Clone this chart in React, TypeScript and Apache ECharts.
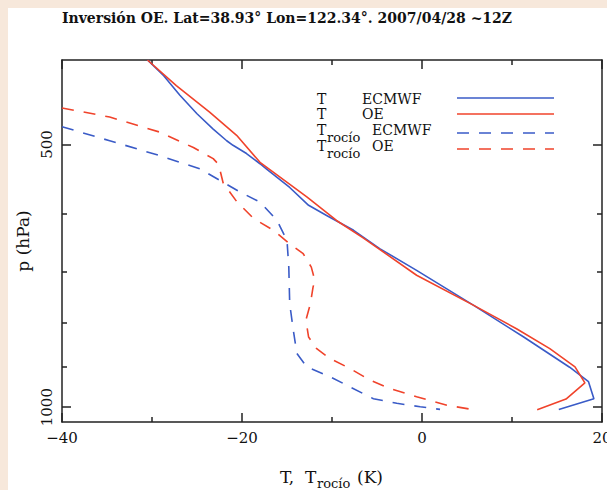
import React, { useEffect, useRef } from "react";
import * as echarts from "echarts";

// ---------- data ----------
const titleText = "Inversión OE. Lat=38.93° Lon=122.34°. 2007/04/28 ~12Z";

const xMin = -40;
const xMax = 20;
const xInterval = 20;
const pTop = 400;
const pBottom = 1040;
const pMajorTicks = [500, 1000];
const pMinorTicks = [600, 700, 800, 900];

// T ECMWF (solid blue)
const tEcmwfT = [-30.5, -28.7, -26.9, -25.0, -23.2, -21.7, -21.0, -19.5, -18.0, -17.3, -14.7, -12.6, -10.6, -7.6, -4.7, -0.6, 5.7, 11.3, 16.4, 18.5, 19.1, 15.2];
const tEcmwfP = [400, 417, 439, 461, 480, 495, 501, 512, 526, 533, 560, 587, 603, 627, 658, 697, 764, 831, 900, 935, 978, 1006];

// T OE (solid red)
const tOeT = [-30.5, -27.3, -23.6, -20.6, -18.0, -12.8, -9.5, -6.5, -0.6, 5.7, 10.5, 14.2, 17.0, 18.1, 16.0, 12.8];
const tOeP = [400, 428, 459, 488, 524, 574, 611, 640, 706, 764, 813, 857, 899, 938, 979, 1007];

// T rocio ECMWF (dashed blue)
const tdEcmwfT = [-40.0, -34.7, -29.1, -24.7, -22.4, -20.2, -18.0, -16.1, -15.0, -14.8, -14.7, -14.3, -13.9, -12.8, -10.2, -8.0, -5.4, -2.8, -0.2, 2.0];
const tdEcmwfP = [477, 495, 515, 533, 550, 567, 582, 611, 644, 691, 761, 816, 868, 899, 923, 948, 978, 990, 999, 1006];

// T rocio OE (dashed red)
const tdOeT = [-40.0, -34.7, -29.1, -25.4, -23.2, -22.6, -22.1, -20.6, -18.7, -16.5, -14.7, -13.2, -12.3, -11.9, -12.1, -12.4, -12.9, -12.6, -11.7, -10.2, -8.0, -5.8, -3.6, -0.6, 2.8, 6.0];
const tdOeP = [454, 465, 484, 504, 519, 527, 553, 581, 608, 627, 650, 667, 691, 716, 728, 761, 795, 831, 857, 880, 903, 931, 952, 973, 995, 1008];

const legendMain = ["T", "T", "T", "T"];
const legendSub = ["", "", "rocío", "rocío"];
const legendModel = ["ECMWF", "OE", "ECMWF", "OE"];

// ---------- styles ----------
const BLUE = "#3a5bc7";
const RED = "#f0432b";
const AX = "#222";
const TXT = "#111";
const SERIF = "DejaVu Serif";
const DASH = [12, 10];

const toPts = (ts: number[], ps: number[]) => ts.map((t, i) => [t, Math.log10(ps[i])]);

export default function App() {
  const ref = useRef<HTMLDivElement>(null);

  useEffect(() => {
    document.body.style.margin = "0";
    document.documentElement.style.overflow = "hidden";
    if (!ref.current) return;
    const chart = echarts.init(ref.current, null, { renderer: "svg" });

    const OFF = 8; // chart div offset in page
    const graphics: any[] = [];
    const text = (x: number, y: number, s: string, size: number, extra: any = {}) => ({
      type: "text",
      x: x - OFF,
      y: y - OFF,
      z: 100,
      style: { text: s, fontFamily: SERIF, fontSize: size, fill: TXT, align: "left", verticalAlign: "middle", ...extra },
    });

    // legend
    const rowY = [99, 114, 130, 146];
    const lineY = [98, 114, 133, 149];
    const colors = [BLUE, RED, BLUE, RED];
    for (let i = 0; i < 4; i++) {
      graphics.push(text(317, rowY[i], legendMain[i], 14));
      if (legendSub[i]) graphics.push(text(327, rowY[i] + 7.5, legendSub[i], 13));
      graphics.push(text(legendSub[i] ? 372 : 362, rowY[i], legendModel[i], 14));
      graphics.push({
        type: "line",
        z: 100,
        shape: { x1: 457 - OFF, y1: lineY[i] - OFF, x2: 554 - OFF, y2: lineY[i] - OFF },
        style: { stroke: colors[i], lineWidth: 1.6, lineDash: i >= 2 ? DASH : null },
      });
    }
    // x axis title with subscript
    graphics.push(text(280, 477, "T,", 17));
    graphics.push(text(305, 477, "T", 17));
    graphics.push(text(317, 483.5, "rocío", 13));
    graphics.push(text(357, 477, "(K)", 17));

    const lmin = Math.log10(pTop);
    const lmax = Math.log10(pBottom);
    const axLine = { show: true, onZero: false, lineStyle: { color: AX, width: 1.5 } };
    const tickStyle = { color: AX, width: 1.5 };

    const xAxisBase = (pos: string, labels: boolean) => ({
      type: "value",
      position: pos,
      min: xMin,
      max: xMax,
      interval: xInterval,
      axisLine: axLine,
      axisTick: { show: true, inside: true, length: 9, lineStyle: tickStyle },
      minorTick: { show: true, splitNumber: 2, length: 5, lineStyle: tickStyle },
      splitLine: { show: false },
      minorSplitLine: { show: false },
      axisLabel: {
        show: labels,
        margin: 8,
        fontFamily: SERIF,
        fontSize: 15,
        color: TXT,
        hideOverlap: false,
        formatter: (v: number) => (v < 0 ? "\u2212" + Math.abs(v) : String(v)),
      },
    });

    const yAxisBase = (pos: string, major: boolean, labels: boolean) => ({
      type: "value",
      position: pos,
      inverse: true,
      min: lmin,
      max: lmax,
      axisLine: major ? axLine : { show: false, onZero: false },
      axisTick: {
        show: true,
        inside: true,
        length: major ? 9 : 5,
        lineStyle: tickStyle,
        customValues: (major ? pMajorTicks : pMinorTicks).map((p) => Math.log10(p)),
      },
      splitLine: { show: false },
      axisLabel: labels
        ? {
            show: true,
            customValues: pMajorTicks.map((p) => Math.log10(p)),
            rotate: 90,
            margin: 8,
            fontFamily: SERIF,
            fontSize: 15,
            color: TXT,
            formatter: (v: number) => String(Math.round(Math.pow(10, v))),
          }
        : { show: false },
      ...(labels
        ? {
            name: "p (hPa)",
            nameLocation: "middle",
            nameRotate: 90,
            nameGap: 30,
            nameTextStyle: { fontFamily: SERIF, fontSize: 17, color: TXT },
          }
        : {}),
    });

    const mk = (data: number[][], color: string, dashed: boolean, z: number) => ({
      type: "line",
      xAxisIndex: 0,
      yAxisIndex: 0,
      data,
      showSymbol: false,
      symbol: "none",
      clip: true,
      z,
      lineStyle: { color, width: 1.6, type: dashed ? DASH : "solid" },
      itemStyle: { color },
    });

    chart.setOption({
      animation: false,
      backgroundColor: "#ffffff",
      title: {
        text: titleText,
        left: 54,
        top: 3,
        padding: 0,
        textStyle: { fontFamily: SERIF, fontSize: 14, fontWeight: "bold", color: TXT },
      },
      grid: { left: 54, top: 52, right: 5, bottom: 68, containLabel: false, outerBoundsMode: "none" },
      xAxis: [xAxisBase("bottom", true), xAxisBase("top", false)],
      yAxis: [
        yAxisBase("left", true, true),
        yAxisBase("left", false, false),
        yAxisBase("right", true, false),
        yAxisBase("right", false, false),
      ],
      series: [
        mk(toPts(tdEcmwfT, tdEcmwfP), BLUE, true, 2),
        mk(toPts(tdOeT, tdOeP), RED, true, 3),
        mk(toPts(tEcmwfT, tEcmwfP), BLUE, false, 4),
        mk(toPts(tOeT, tOeP), RED, false, 5),
      ],
      graphic: graphics,
    });

    return () => chart.dispose();
  }, []);

  return (
    <div
      style={{
        width: 607,
        height: 490,
        background: "#f7e8db",
        paddingLeft: 8,
        paddingTop: 8,
        boxSizing: "border-box",
        overflow: "hidden",
      }}
    >
      <div ref={ref} style={{ width: 599, height: 482, background: "#ffffff" }} />
    </div>
  );
}
